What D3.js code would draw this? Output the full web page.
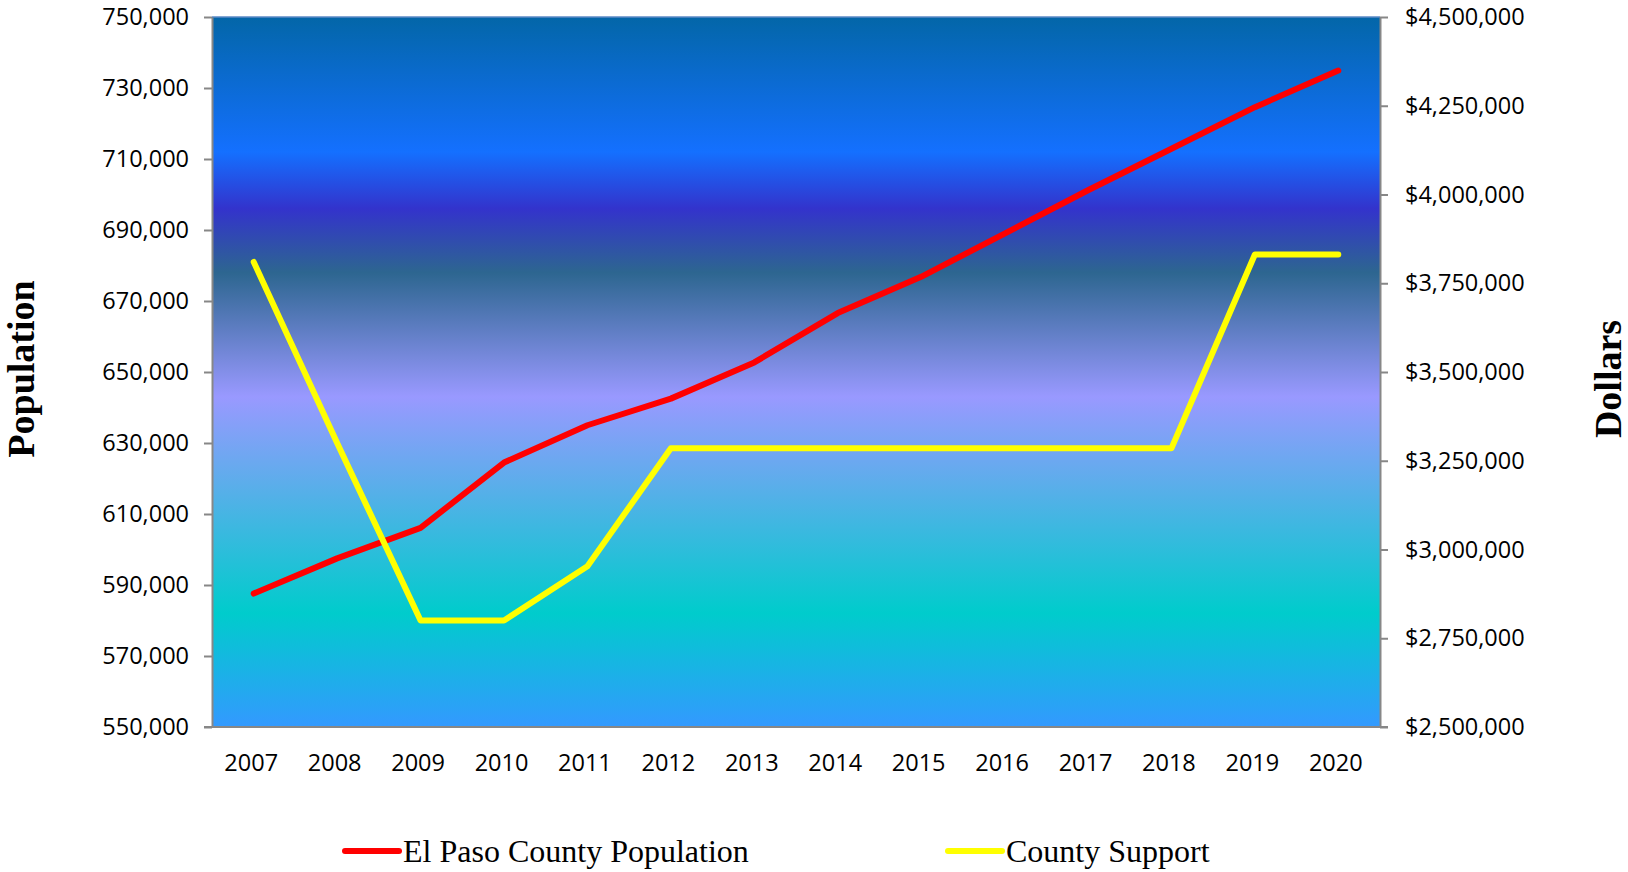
<!DOCTYPE html>
<html>
<head>
<meta charset="utf-8">
<script src="https://cdn.jsdelivr.net/npm/d3@7"></script>
<style>
  body { margin: 0; background: #fff; }
  .axis text { font-family: 'Open Sans', sans-serif; font-size: 23.5px; fill: #000; }
  .axis path, .axis line { stroke: #878787; stroke-width: 2; }
  .title { font-family: 'Liberation Serif', 'Times New Roman', serif; font-weight: bold; font-size: 38px; }
  .legend text { font-family: 'Liberation Serif', 'Times New Roman', serif; font-size: 32px; }
</style>
</head>
<body>
<svg id="chart" width="1628" height="872"></svg>
<script>
var years = ['2007', '2008', '2009', '2010', '2011', '2012', '2013', '2014', '2015', '2016', '2017', '2018', '2019', '2020']
var population = [587600, 597500, 606100, 624500, 635000, 642500, 652700, 666600, 676800, 689000, 701200, 712900, 724600, 734900]
var support = [3810000, 3300000, 2800000, 2800000, 2953000, 3285000, 3285000, 3285000, 3285000, 3285000, 3285000, 3285000, 3831000, 3831000]
var popTicks = [550000, 570000, 590000, 610000, 630000, 650000, 670000, 690000, 710000, 730000, 750000]
var dollarTicks = [2500000, 2750000, 3000000, 3250000, 3500000, 3750000, 4000000, 4250000, 4500000]
var seriesNames = ['El Paso County Population', 'County Support']

var margin = { top: 17, right: 248, bottom: 145, left: 212 }
var width = 1628 - margin.left - margin.right
var height = 872 - margin.top - margin.bottom

var svg = d3.select('#chart')

// background gradient of the plot area
var grad = svg.append('defs').append('linearGradient')
    .attr('id', 'bg')
    .attr('x1', 0).attr('y1', 0).attr('x2', 0).attr('y2', 1)
var stops = [
  [0, '#0366a8'], [0.19, '#1470ff'], [0.27, '#3333cc'], [0.36, '#2d6690'],
  [0.535, '#9999ff'], [0.84, '#00cccc'], [1, '#3399ff']
]
grad.selectAll('stop').data(stops).enter().append('stop')
    .attr('offset', d => d[0])
    .attr('stop-color', d => d[1])

var g = svg.append('g')
    .attr('transform', 'translate(' + margin.left + ',' + margin.top + ')')

var x = d3.scalePoint().domain(years).range([0, width]).padding(0.5)
var y = d3.scaleLinear().domain([550000, 750000]).range([height, 0])
var y2 = d3.scaleLinear().domain([2500000, 4500000]).range([height, 0])

g.append('rect')
    .attr('width', width)
    .attr('height', height)
    .attr('fill', 'url(#bg)')

g.append('line')
    .attr('x1', 0).attr('x2', width)
    .attr('y1', 0).attr('y2', 0)
    .attr('stroke', '#5b8ac6')
    .attr('stroke-width', 1.5)

var fmt = d3.format(',')

g.append('g')
    .attr('class', 'axis')
    .call(d3.axisLeft(y).tickValues(popTicks).tickFormat(fmt).tickSize(8).tickPadding(15).tickSizeOuter(0))

g.append('g')
    .attr('class', 'axis')
    .attr('transform', 'translate(' + width + ',0)')
    .call(d3.axisRight(y2).tickValues(dollarTicks).tickFormat(d => '$' + fmt(d)).tickSize(8).tickPadding(17).tickSizeOuter(0))

var xAxis = g.append('g')
    .attr('class', 'axis')
    .attr('transform', 'translate(0,' + height + ')')
    .call(d3.axisBottom(x).tickSize(0).tickPadding(27).tickSizeOuter(0))
xAxis.select('.domain').attr('d', 'M-8,0H' + (width + 8))
xAxis.selectAll('.tick text').attr('dx', -3)

var popLine = d3.line()
    .x((d, i) => x(years[i]))
    .y(d => y(d))

var supLine = d3.line()
    .x((d, i) => x(years[i]))
    .y(d => y2(d))

g.append('path')
    .datum(population)
    .attr('d', popLine)
    .attr('fill', 'none')
    .attr('stroke', '#ff0000')
    .attr('stroke-width', 6)
    .attr('stroke-linecap', 'round')
    .attr('stroke-linejoin', 'round')

g.append('path')
    .datum(support)
    .attr('d', supLine)
    .attr('fill', 'none')
    .attr('stroke', '#ffff00')
    .attr('stroke-width', 6)
    .attr('stroke-linecap', 'round')
    .attr('stroke-linejoin', 'round')

// axis titles
svg.append('text')
    .attr('class', 'title')
    .attr('transform', 'translate(34,369) rotate(-90)')
    .attr('text-anchor', 'middle')
    .text('Population')

svg.append('text')
    .attr('class', 'title')
    .attr('transform', 'translate(1621,379) rotate(-90)')
    .attr('text-anchor', 'middle')
    .text('Dollars')

// legend
var legend = svg.append('g').attr('class', 'legend')
var legendX = [345, 948]
var legendColors = ['#ff0000', '#ffff00']
seriesNames.forEach((name, i) => {
  legend.append('line')
      .attr('x1', legendX[i]).attr('x2', legendX[i] + 54)
      .attr('y1', 851).attr('y2', 851)
      .attr('stroke', legendColors[i])
      .attr('stroke-width', 6)
      .attr('stroke-linecap', 'round')
  legend.append('text')
      .attr('x', legendX[i] + 58)
      .attr('y', 862)
      .text(name)
})
</script>
</body>
</html>
